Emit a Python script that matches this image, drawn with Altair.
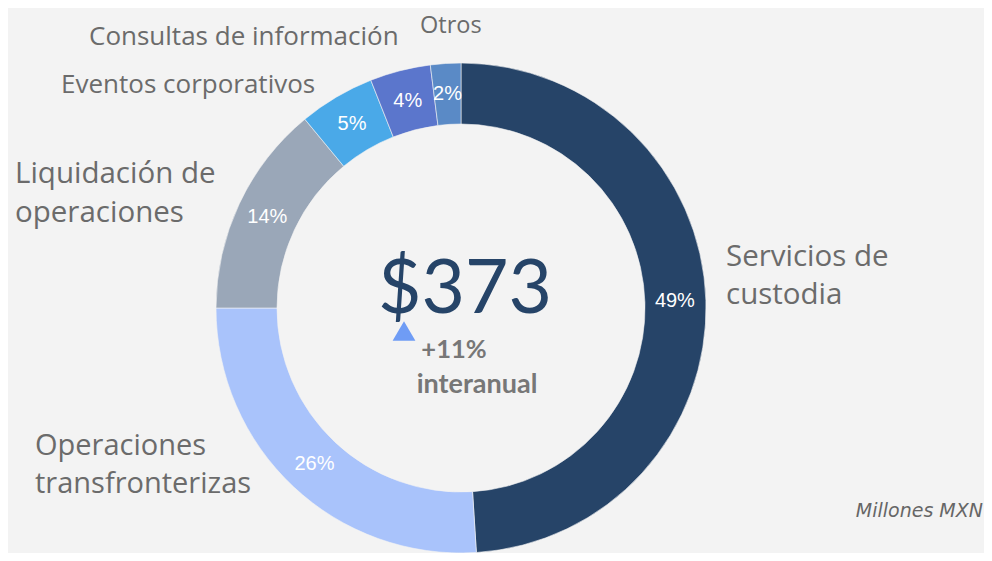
import altair as alt
import pandas as pd

categories = ["Servicios de custodia", "Operaciones transfronterizas", "Liquidación de operaciones",
              "Eventos corporativos", "Consultas de información", "Otros"]
values = [49, 26, 14, 5, 4, 2]
pct_labels = ["49%", "26%", "14%", "5%", "4%", "2%"]
colors = ["#264468", "#a9c3fb", "#9aa7b8", "#4aa9e8", "#5b76cc", "#5a8ac6"]

df = pd.DataFrame({"cat": categories, "value": values, "pct": pct_labels,
                   "idx": list(range(len(categories)))})

CX, CY = 453, 300  # donut centre inside plot area (page 461, 308)

base = alt.Chart(df)

arcs = base.mark_arc(outerRadius=245, innerRadius=184, stroke="#f3f3f3", strokeWidth=0.6).encode(
    theta=alt.Theta("value:Q", stack=True),
    order=alt.Order("idx:Q"),
    color=alt.Color("cat:N", scale=alt.Scale(domain=categories, range=colors), legend=None),
    x=alt.value(CX), y=alt.value(CY),
)

pcts = base.mark_text(radius=214, font="Liberation Sans", fontSize=20, color="white",
                      align="center", baseline="middle").encode(
    theta=alt.Theta("value:Q", stack=True),
    order=alt.Order("idx:Q"),
    text="pct:N",
    x=alt.value(CX), y=alt.value(CY),
)

def label(lines, x, y, size, font="Open Sans", color="#6b6b6b", align="left", weight="normal",
          style="normal", lh=None):
    d = pd.DataFrame({"t": [lines]})
    kw = {}
    if lh is not None:
        kw["lineHeight"] = lh
    return alt.Chart(d).mark_text(align=align, baseline="alphabetic", font=font, fontSize=size,
                                  color=color, fontWeight=weight, fontStyle=style, **kw).encode(
        text="t:N", x=alt.value(x - 8), y=alt.value(y - 8))

labels = [
    label("Otros", 420, 33, 23.5),
    label("Consultas de información", 89, 45, 26),
    label("Eventos corporativos", 61, 93, 26),
    label(["Liquidación de", "operaciones"], 15, 183, 29.5, lh=39),
    label(["Servicios de", "custodia"], 726, 266, 29.5, lh=38),
    label(["Operaciones", "transfronterizas"], 35, 455, 29, lh=38),
    label("Millones MXN", 983, 517, 19, font="DejaVu Sans", align="right", style="italic",
          color="#666666"),
    label("$373", 465, 313, 75, font="Lato", color="#264468", align="center"),
    label("+11%", 454, 358, 25.5, font="Lato", color="#777777", align="center", weight="bold"),
    label("interanual", 477, 393, 27, font="Lato", color="#777777", align="center", weight="bold"),
]

tri = alt.Chart(pd.DataFrame({"a": [1]})).mark_point(shape="triangle-up", filled=True,
                                                      color="#6f9cf5", opacity=1, size=520).encode(
    x=alt.value(404 - 8), y=alt.value(331 - 8))

chart = alt.layer(arcs, pcts, tri, *labels).properties(
    width=976, height=545,
    autosize=alt.AutoSizeParams(type="fit", contains="padding"),
    padding=0,
    background="#f3f3f3",
).configure_view(stroke=None)

chart.save("out.html", embed_options={"renderer": "svg", "actions": False})
